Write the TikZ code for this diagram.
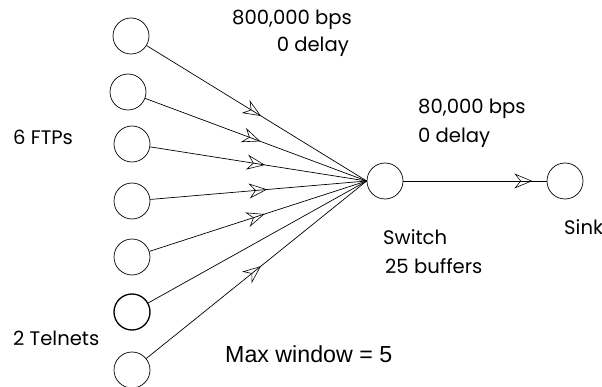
\documentclass[tikz,border=0pt]{standalone}
\usepackage{fontspec}
\setmainfont{Poppins}
\newfontfamily\plainsans{Liberation Sans}
\usetikzlibrary{arrows.meta,decorations.markings}
\tikzset{openhead/.tip={Stealth[open,length=18pt,width=15pt,inset=6pt,line width=0.6pt]}}
\begin{document}
\begin{tikzpicture}[x=1pt,y=-1pt,
  host/.style={circle,draw,line width=0.7pt,minimum size=36pt,inner sep=0pt},
  lbl/.style={font=\fontsize{19.6}{22}\selectfont,inner sep=0pt},
  link/.style={line width=0.7pt,postaction={decorate},
    decoration={markings,mark=at position #1 with {\arrow{openhead}}}},
  plain/.style={line width=0.7pt}]
\useasboundingbox (0,0) rectangle (602,387);

% sources
\node[host] (c1) at (131,36) {};
\node[host] (c2) at (128,92) {};
\node[host] (c3) at (132,144) {};
\node[host] (c4) at (132,201) {};
\node[host] (c5) at (132,257) {};
\node[host,line width=1.3pt] (c6) at (132,312) {};
\node[host] (c7) at (132,370) {};

% switch and sink
\node[host] (s) at (385,181) {};
\node[host] (k) at (565,181) {};

% access links
\draw[link=0.52] (c1) -- (s.west);
\draw[link=0.52] (c2) -- (s.west);
\draw[link=0.53] (c3) -- (s.west);
\draw[link=0.54] (c4) -- (s.west);
\draw[link=0.53] (c5) -- (s.west);
\draw[plain] (c6) -- (s.west);
\draw[link=0.52] (c7) -- (s.west);

% bottleneck link
\draw[link=0.9] (s) -- (k);

% labels
\node[lbl,anchor=base west] (t1) at (232,25) {800,000 bps};
\node[lbl,anchor=base east] (t2) at (349,52) {0 delay};
\node[lbl,anchor=base west] (t3) at (418,114) {80,000 bps};
\node[lbl,anchor=base west] (t4) at (418,143) {0 delay};
\node[lbl,anchor=base west] (t5) at (383,245) {Switch};
\node[lbl,anchor=base west] (t6) at (385,273) {25 buffers};
\node[lbl,anchor=base west] (t7) at (564,235) {Sink};
\node[lbl,anchor=base west] (t8) at (13,145) {6 FTPs};
\node[lbl,anchor=base west] (t9) at (13,345) {2 Telnets};
\node[lbl,font=\plainsans\fontsize{23.2}{26}\selectfont,anchor=base west] (t10) at (225,362) {Max window = 5};
\end{tikzpicture}
\end{document}
